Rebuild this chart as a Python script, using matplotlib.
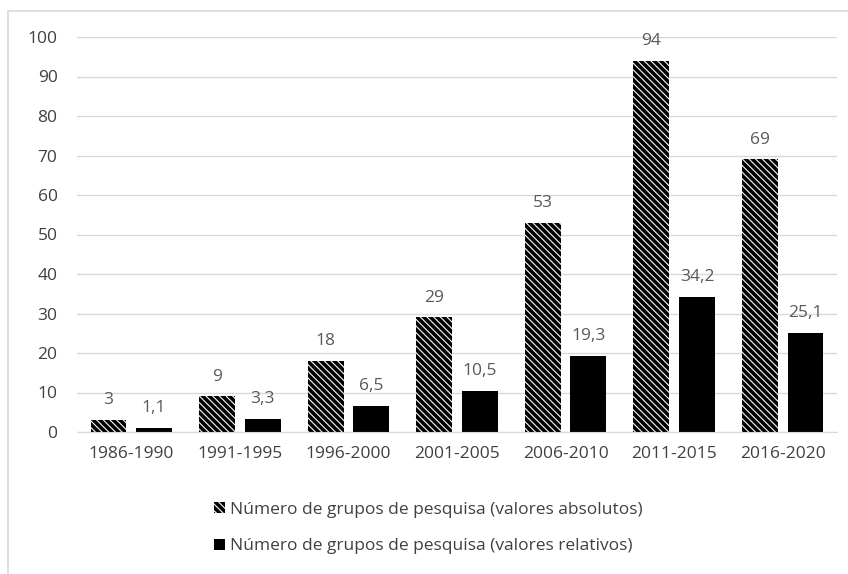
import numpy as np
import matplotlib.pyplot as plt
from matplotlib.patches import Rectangle

plt.rcParams['font.family'] = ['Open Sans', 'DejaVu Sans']
plt.rcParams['hatch.linewidth'] = 2.6

periods = ["1986-1990", "1991-1995", "1996-2000", "2001-2005",
           "2006-2010", "2011-2015", "2016-2020"]
absolutos = [3, 9, 18, 29, 53, 94, 69]
relativos = [1.1, 3.3, 6.5, 10.5, 19.3, 34.2, 25.1]
label_abs = "Número de grupos de pesquisa (valores absolutos)"
label_rel = "Número de grupos de pesquisa (valores relativos)"

txt = "#595959"

fig = plt.figure(figsize=(8.48, 5.74), dpi=100)
fig.patches.append(Rectangle((8 / 848, -0.01), 1.0, 1 - 11 / 574 + 0.01,
                             transform=fig.transFigure, fill=False,
                             edgecolor="#d9d9d9", linewidth=1.2))
ax = fig.add_axes([77 / 848, 1 - 432 / 574, 760 / 848, 395 / 574])

x = np.arange(len(periods))
w = 0.33
off = 0.21
b1 = ax.bar(x - off, absolutos, w, color="white", edgecolor="black",
            hatch="\\\\\\\\\\", linewidth=0, label=label_abs)
b2 = ax.bar(x + off, relativos, w, color="black", linewidth=0, label=label_rel)

for bars, vals in ((b1, absolutos), (b2, relativos)):
    for r, v in zip(bars, vals):
        s = str(v).replace(".", ",")
        ax.text(r.get_x() + r.get_width() / 2, v + 3, s, ha="center",
                va="bottom", fontsize=12.5, color=txt, clip_on=False)

ax.set_xlim(-0.5, len(periods) - 0.5)
ax.set_ylim(0, 100)
ax.set_yticks(range(0, 101, 10))
ax.set_xticks(x)
ax.set_xticklabels(periods)
ax.tick_params(axis="both", length=0, labelsize=12.5, labelcolor="#404040")
ax.tick_params(axis="x", pad=10)
ax.tick_params(axis="y", pad=14)
ax.yaxis.grid(True, color="#d9d9d9", linewidth=1)
ax.set_axisbelow(True)
for sp in ["top", "right", "left"]:
    ax.spines[sp].set_visible(False)
ax.spines["bottom"].set_color("#d9d9d9")

fig.legend(handles=[b1, b2], loc="center", bbox_to_anchor=(0.505, 1 - 528 / 574),
           ncol=1, frameon=False, fontsize=12.5, labelcolor="#404040",
           handlelength=0.6, handleheight=0.6, handletextpad=0.3,
           labelspacing=1.2)

fig.savefig("out.png", dpi=100)
